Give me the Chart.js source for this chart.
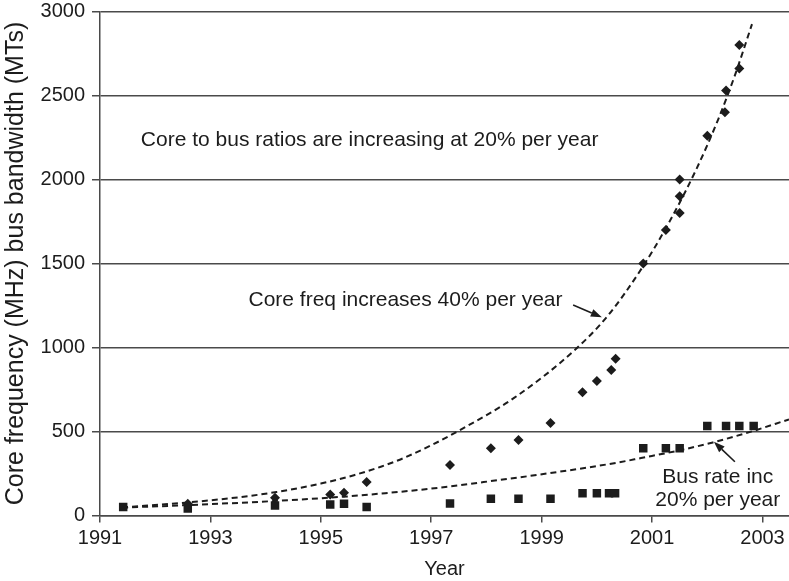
<!DOCTYPE html>
<html>
<head>
<meta charset="utf-8">
<script src="https://cdn.jsdelivr.net/npm/chart.js@4/dist/chart.umd.min.js"></script>
<style>
  html, body { margin: 0; padding: 0; background: #fff; }
  #wrap { width: 789px; height: 581px; }
</style>
</head>
<body>
<div id="wrap"><canvas id="c" width="789" height="581"></canvas></div>
<script>
// Processor core frequency (MHz), one diamond per part
const coreYears = [1992.59, 1994.17, 1995.17, 1995.42, 1995.83, 1997.34, 1998.08, 1998.58, 1999.16,
                   1999.74, 2000.0, 2000.26, 2000.34, 2000.84, 2001.25, 2001.5, 2001.5, 2001.5,
                   2002.0, 2002.32, 2002.34, 2002.58, 2002.58];
const coreMHz = [70, 105, 125, 135, 200, 300, 400, 450, 550,
                 733, 800, 866, 933, 1500, 1700, 1800, 1900, 2000,
                 2260, 2400, 2530, 2660, 2800];

// Front-side bus bandwidth (MT/s), one square per part
const busYears = [1991.42, 1992.59, 1994.17, 1995.17, 1995.42, 1995.83, 1997.34, 1998.08, 1998.58,
                  1999.16, 1999.74, 2000.0, 2000.22, 2000.33, 2000.84, 2001.25, 2001.5,
                  2002.0, 2002.34, 2002.58, 2002.84];
const busMTs = [50, 42, 60, 66, 70, 50, 72, 100, 100,
                100, 133, 133, 133, 133, 400, 400, 400,
                533, 533, 533, 533];

// Trend curves (40%/yr core, 20%/yr bus)
const coreTrendYears = [1991.4, 1992.6, 1993.5, 1994.2, 1995.0, 1995.6, 1996.1, 1996.5, 1997.0, 1997.5,
                        1998.5, 1999.6, 2000.2, 2000.8, 2001.3, 2001.8, 2002.2, 2002.5, 2002.81];
const coreTrendValues = [48, 78, 108, 140, 190, 240, 292, 342, 418, 505,
                         700, 985, 1190, 1465, 1740, 2060, 2360, 2620, 2925];
const busTrendYears = [1991.4, 1992.6, 1994.15, 1995.5, 1996.1, 1997.0, 1997.9, 1999.1,
                       2000.36, 2000.8, 2001.5, 2002.1, 2002.78, 2003.48];
const busTrendValues = [47, 62, 86, 114, 131, 160, 197, 250,
                        314, 342, 388, 435, 498, 572];

// Axis ticks
const yearTicks = [1991, 1993, 1995, 1997, 1999, 2001, 2003];
const valueTicks = [0, 500, 1000, 1500, 2000, 2500, 3000];

const toPoints = (xs, ys) => xs.map((x, i) => ({ x: x, y: ys[i] }));

const INK = '#1c1c1c';
const AXIS = '#4a4a4a';
const FONT = "'Liberation Sans', Arial, Helvetica, sans-serif";

// Callout texts and arrows, placed in data units
const notes = [
  { text: 'Core to bus ratios are increasing at 20% per year', x: 1991.74, y: 2199, align: 'left' },
  { text: 'Core freq increases 40% per year', x: 1993.69, y: 1247, align: 'left' },
  { text: 'Bus rate inc', x: 2002.19, y: 195, align: 'center' },
  { text: '20% per year', x: 2002.19, y: 57, align: 'center' }
];
const arrows = [
  { from: [1999.57, 1253], to: [2000.09, 1180] },
  { from: [2002.50, 320], to: [2002.12, 439] }
];

const calloutPlugin = {
  id: 'callouts',
  afterDraw(chart) {
    const { ctx, scales: { x, y } } = chart;
    ctx.save();
    ctx.fillStyle = INK;
    ctx.font = '21px ' + FONT;
    ctx.textBaseline = 'alphabetic';
    notes.forEach(n => {
      ctx.textAlign = n.align;
      ctx.fillText(n.text, x.getPixelForValue(n.x), y.getPixelForValue(n.y));
    });
    ctx.strokeStyle = INK;
    ctx.lineWidth = 1.6;
    arrows.forEach(a => {
      const x0 = x.getPixelForValue(a.from[0]), y0 = y.getPixelForValue(a.from[1]);
      const x1 = x.getPixelForValue(a.to[0]), y1 = y.getPixelForValue(a.to[1]);
      const ang = Math.atan2(y1 - y0, x1 - x0);
      const len = 11, half = 4;
      const bx = x1 - len * Math.cos(ang), by = y1 - len * Math.sin(ang);
      ctx.beginPath();
      ctx.moveTo(x0, y0);
      ctx.lineTo(bx, by);
      ctx.stroke();
      ctx.beginPath();
      ctx.moveTo(x1, y1);
      ctx.lineTo(bx + half * Math.sin(ang), by - half * Math.cos(ang));
      ctx.lineTo(bx - half * Math.sin(ang), by + half * Math.cos(ang));
      ctx.closePath();
      ctx.fill();
    });
    ctx.restore();
  }
};

new Chart(document.getElementById('c'), {
  type: 'scatter',
  data: {
    datasets: [
      {
        label: 'Core frequency',
        data: toPoints(coreYears, coreMHz),
        pointStyle: 'rectRot',
        pointRadius: 5,
        backgroundColor: INK,
        borderColor: INK,
        borderWidth: 0,
        order: 0
      },
      {
        label: 'Bus bandwidth',
        data: toPoints(busYears, busMTs),
        pointStyle: 'rect',
        pointRadius: 6,
        backgroundColor: INK,
        borderColor: INK,
        borderWidth: 0,
        order: 0
      },
      {
        label: 'Core trend',
        data: toPoints(coreTrendYears, coreTrendValues),
        showLine: true,
        pointRadius: 0,
        borderColor: INK,
        borderWidth: 2,
        borderDash: [6, 4],
        cubicInterpolationMode: 'monotone',
        fill: false,
        order: 1
      },
      {
        label: 'Bus trend',
        data: toPoints(busTrendYears, busTrendValues),
        showLine: true,
        pointRadius: 0,
        borderColor: INK,
        borderWidth: 2,
        borderDash: [6, 4],
        cubicInterpolationMode: 'monotone',
        fill: false,
        order: 1
      }
    ]
  },
  options: {
    responsive: false,
    animation: false,
    devicePixelRatio: 1,
    layout: { autoPadding: false, padding: 0 },
    plugins: {
      legend: { display: false },
      tooltip: { enabled: false }
    },
    scales: {
      x: {
        type: 'linear',
        min: 1991,
        max: 2003.48,
        afterBuildTicks: s => { s.ticks = yearTicks.map(v => ({ value: v })); },
        afterFit: s => {
          s.height = 65.5;
          s.paddingLeft = 0;
          s.paddingRight = 0;
          s.paddingTop = 0;
          s.paddingBottom = 0;
        },
        ticks: {
          font: { family: FONT, size: 20 },
          color: INK,
          padding: 4,
          maxRotation: 0,
          autoSkip: false,
          callback: v => String(v)
        },
        grid: { drawOnChartArea: false, drawTicks: true, tickLength: 7, color: AXIS, lineWidth: 1.5 },
        border: { color: AXIS, width: 1.5 },
        title: {
          display: true,
          text: 'Year',
          font: { family: FONT, size: 20 },
          color: INK,
          padding: { top: 0, bottom: 0 }
        }
      },
      y: {
        min: 0,
        max: 3000,
        afterBuildTicks: s => { s.ticks = valueTicks.map(v => ({ value: v })); },
        afterFit: s => {
          s.width = 100;
          s.paddingTop = 11.5;
          s.paddingBottom = 0;
          s.paddingLeft = 0;
          s.paddingRight = 0;
        },
        ticks: {
          font: { family: FONT, size: 20 },
          color: INK,
          padding: 7,
          callback: v => String(v)
        },
        grid: { drawOnChartArea: true, drawTicks: true, tickLength: 8, color: AXIS, lineWidth: 1.5 },
        border: { color: AXIS, width: 1.5 },
        title: {
          display: true,
          text: 'Core frequency (MHz) bus bandwidth (MTs)',
          font: { family: FONT, size: 25 },
          color: INK,
          padding: { top: 1, bottom: 0 }
        }
      }
    }
  },
  plugins: [calloutPlugin]
});
</script>
</body>
</html>
